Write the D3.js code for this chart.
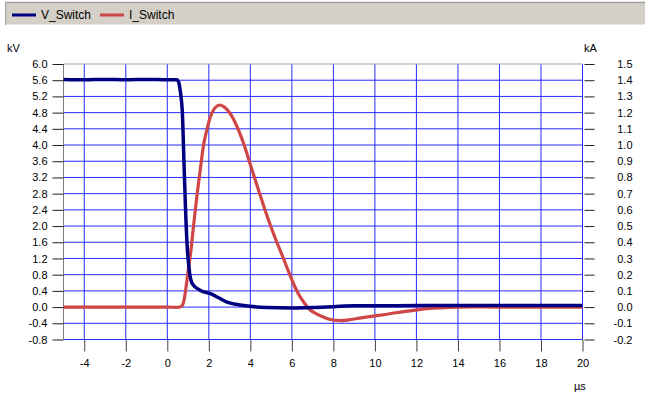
<!DOCTYPE html>
<html><head><meta charset="utf-8">
<script src="https://cdn.jsdelivr.net/npm/d3@7"></script>
<style>
body{margin:0;background:#fff;}
svg text{font-family:"Liberation Sans",Arial,sans-serif;font-size:11px;fill:#000;}
</style></head>
<body><svg id="c" width="645" height="395"></svg>
<script>
// Data
const seriesNames = ["V_Switch", "I_Switch"];
const vTime = [-5,-4,-3,-2,-1,0,0.3,0.45,0.55,0.62,0.68,0.72,0.8,0.88,0.96,1.04,1.2,1.6,2.08,2.4,2.88,3.68,4.8,6,7,8,9,10,12,14,16,18,20];
const vValues = [5.62,5.61,5.62,5.61,5.62,5.61,5.61,5.61,5.55,5.35,5.1,4.86,3.63,2.39,1.48,0.99,0.58,0.41,0.33,0.25,0.12,0.04,-0.01,-0.02,-0.01,0.01,0.03,0.03,0.04,0.04,0.04,0.04,0.04];
const iTime = [-5,-4,-2,0,0.6,0.72,0.8,0.9,1.0,1.12,1.28,1.44,1.6,1.76,1.92,2.08,2.3,2.51,2.7,2.9,3.1,3.3,3.5,3.7,4.0,4.4,4.81,5.2,5.61,5.9,6.26,6.6,6.9,7.4,7.86,8.3,8.67,9.4,10.27,11.0,11.86,12.5,14,16,18,20];
const iValues = [0,0,0,0,0,0.01,0.04,0.12,0.22,0.33,0.52,0.70,0.86,1.01,1.10,1.175,1.23,1.247,1.238,1.215,1.18,1.13,1.07,1.0,0.88,0.72,0.56,0.425,0.295,0.2,0.095,0.025,-0.02,-0.055,-0.077,-0.083,-0.08,-0.065,-0.05,-0.035,-0.02,-0.01,0,0,0,0];
const xTicks = [-4,-2,0,2,4,6,8,10,12,14,16,18,20];
const vTicks = [-0.8,-0.4,0,0.4,0.8,1.2,1.6,2.0,2.4,2.8,3.2,3.6,4.0,4.4,4.8,5.2,5.6,6.0];
const iTicks = [-0.2,-0.1,0,0.1,0.2,0.3,0.4,0.5,0.6,0.7,0.8,0.9,1.0,1.1,1.2,1.3,1.4,1.5];

const svg = d3.select("#c");
const L = 63.5, R = 582.5, T = 64, B = 339.5;
const x = d3.scaleLinear().domain([-5,20]).range([L,R]);
const yV = d3.scaleLinear().domain([-0.8,6.0]).range([B,T]);
const yI = d3.scaleLinear().domain([-0.2,1.5]).range([B,T]);
const hy = s => s.replace("\u2212","-");
const f1 = d => hy(d3.format(".1f")(d));
const f0 = d => hy(d3.format("d")(d));

// legend band
svg.append("rect").attr("x",5.5).attr("y",2.5).attr("width",645).attr("height",22).attr("fill","#d4d0c8").attr("stroke","none");
svg.append("line").attr("x1",5).attr("x2",645).attr("y1",2.5).attr("y2",2.5).attr("stroke","#a0a0a0").attr("stroke-width",1.5);
svg.append("line").attr("x1",5.5).attr("x2",5.5).attr("y1",2).attr("y2",25).attr("stroke","#a0a0a0");
const legColors = ["#000080","#d04545"];
const legX = [12, 100];
seriesNames.forEach((n,k)=>{
  svg.append("line").attr("x1",legX[k]).attr("x2",legX[k]+24).attr("y1",15).attr("y2",15).attr("stroke",legColors[k]).attr("stroke-width",3);
  svg.append("text").attr("x",legX[k]+29).attr("y",19).style("font-size","12px").text(n);
});

// grid
const g = svg.append("g");
g.selectAll(".vg").data(xTicks).join("line").attr("x1",d=>x(d)).attr("x2",d=>x(d)).attr("y1",T).attr("y2",B).attr("stroke","#2a2aff").attr("stroke-width",1);
g.selectAll(".hg").data(vTicks.filter(d=>d<6)).join("line").attr("x1",L).attr("x2",R).attr("y1",d=>yV(d)).attr("y2",d=>yV(d)).attr("stroke","#2a2aff").attr("stroke-width",1);
// frame
g.append("line").attr("x1",L).attr("x2",R).attr("y1",T).attr("y2",T).attr("stroke","#a0a0a0");
g.append("line").attr("x1",L).attr("x2",L).attr("y1",T).attr("y2",B).attr("stroke","#808080");

// axes
const axL = d3.axisLeft(yV).tickValues(vTicks).tickFormat(f1).tickSize(11).tickPadding(5);
const gl = svg.append("g").attr("transform",`translate(${L},0)`).call(axL);
gl.select(".domain").remove();
const axR = d3.axisRight(yI).tickValues(iTicks).tickFormat(f1).tickSize(10).tickPadding(0);
const gr = svg.append("g").attr("transform",`translate(${R+2},0)`).call(axR);
gr.select(".domain").remove();
gr.selectAll("text").attr("text-anchor","end").attr("x",48);
const axB = d3.axisBottom(x).tickValues(xTicks).tickFormat(f0).tickSize(12).tickPadding(8);
const gb = svg.append("g").attr("transform",`translate(0,${B})`).call(axB);
gb.select(".domain").remove();
[gl,gr,gb].forEach(a=>{a.selectAll("line").attr("stroke","#202020");a.selectAll("text").style("font-size","11px").attr("fill","#000");});
gb.selectAll("line").attr("stroke","#404040");

svg.append("text").attr("x",7).attr("y",52).text("kV");
svg.append("text").attr("x",584).attr("y",52).text("kA");
svg.append("text").attr("x",574).attr("y",390).text("µs");

// lines
const lineV = d3.line().x(d=>x(d[0])).y(d=>yV(d[1])).curve(d3.curveMonotoneX);
const lineI = d3.line().x(d=>x(d[0])).y(d=>yI(d[1])).curve(d3.curveCatmullRom.alpha(0.5));
svg.append("path").attr("d",lineI(d3.zip(iTime,iValues))).attr("fill","none").attr("stroke","#d04545").attr("stroke-width",3.2).attr("stroke-linejoin","round");
svg.append("path").attr("d",lineV(d3.zip(vTime,vValues))).attr("fill","none").attr("stroke","#000080").attr("stroke-width",3.5).attr("stroke-linejoin","round");
</script></body></html>
